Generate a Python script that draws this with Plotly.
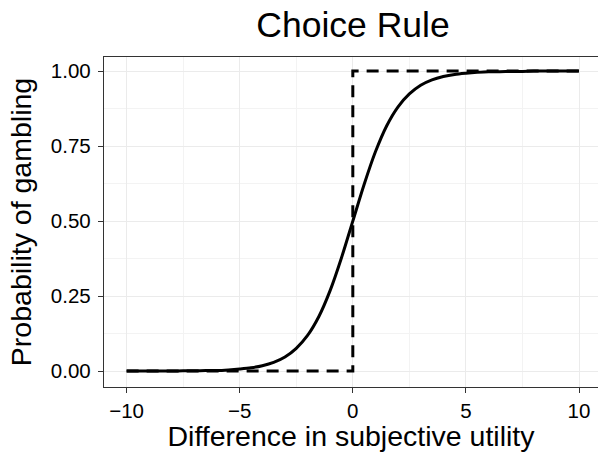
import plotly.graph_objects as go

# Values
curve_x = [-10, -9.5, -9, -8.5, -8, -7.5, -7, -6.5, -6, -5.5, -5, -4.5, -4, -3.5, -3,
           -2.5, -2, -1.5, -1, -0.5, 0, 0.5, 1, 1.5, 2, 2.5, 3, 3.5, 4, 4.5, 5,
           5.5, 6, 6.5, 7, 7.5, 8, 8.5, 9, 9.5, 10]
curve_y = [0.000, 0.000, 0.000, 0.000, 0.000, 0.001, 0.001, 0.002, 0.002, 0.004, 0.007,
           0.011, 0.018, 0.029, 0.047, 0.076, 0.119, 0.182, 0.269, 0.378, 0.500,
           0.622, 0.731, 0.818, 0.881, 0.924, 0.953, 0.971, 0.982, 0.989, 0.993,
           0.996, 0.998, 0.998, 0.999, 0.999, 1.000, 1.000, 1.000, 1.000, 1.000]
step_x = [-10, 0, 0, 10]
step_y = [0, 0, 1, 1]

x_ticks = [-10, -5, 0, 5, 10]
x_ticklabels = ["\u221210", "\u22125", "0", "5", "10"]
y_ticks = [0, 0.25, 0.5, 0.75, 1.0]
y_ticklabels = ["0.00", "0.25", "0.50", "0.75", "1.00"]

FONT = "Liberation Sans, Arial, Helvetica, sans-serif"

fig = go.Figure()
fig.add_trace(go.Scatter(x=step_x, y=step_y, mode="lines",
                         line=dict(color="black", width=3, dash="12px,8px"),
                         showlegend=False, hoverinfo="skip"))
fig.add_trace(go.Scatter(x=curve_x, y=curve_y, mode="lines",
                         line=dict(color="black", width=3, shape="spline", smoothing=0.8),
                         showlegend=False))

fig.update_layout(
    width=598, height=452,
    margin=dict(l=104, r=0, t=57, b=65),
    paper_bgcolor="white", plot_bgcolor="white",
    font=dict(family=FONT, color="black"),
    title=dict(text="Choice Rule", x=353 / 598, xanchor="center",
               y=1 - 25 / 452, yanchor="middle",
               font=dict(size=35.5, color="black", family=FONT)),
)
fig.update_xaxes(
    range=[-11, 10.84], tickvals=x_ticks, ticktext=x_ticklabels,
    showgrid=True, gridcolor="#EBEBEB", gridwidth=1,
    minor=dict(dtick=2.5, showgrid=True, gridcolor="#F3F3F3", gridwidth=0.6, ticks=""),
    zeroline=False, showline=True, linecolor="#333333", linewidth=1.3, mirror=True,
    ticks="outside", ticklen=5, tickcolor="#333333", tickwidth=1.3,
    tickfont=dict(size=20.5, color="black"),
    title=dict(text="Difference in subjective utility", font=dict(size=28.5, color="black"), standoff=3),
)
fig.update_yaxes(
    range=[-0.053, 1.047], tickvals=y_ticks, ticktext=y_ticklabels,
    showgrid=True, gridcolor="#EBEBEB", gridwidth=1,
    minor=dict(dtick=0.125, tick0=0.125, showgrid=True, gridcolor="#F3F3F3", gridwidth=0.6, ticks=""),
    zeroline=False, showline=True, linecolor="#333333", linewidth=1.3, mirror=False,
    ticks="outside", ticklen=5, tickcolor="#333333", tickwidth=1.3,
    ticklabelstandoff=3,
    tickfont=dict(size=20.5, color="black"),
    title=dict(text="Probability of gambling", font=dict(size=28.5, color="black"), standoff=10),
)

fig.write_html("out.html")
